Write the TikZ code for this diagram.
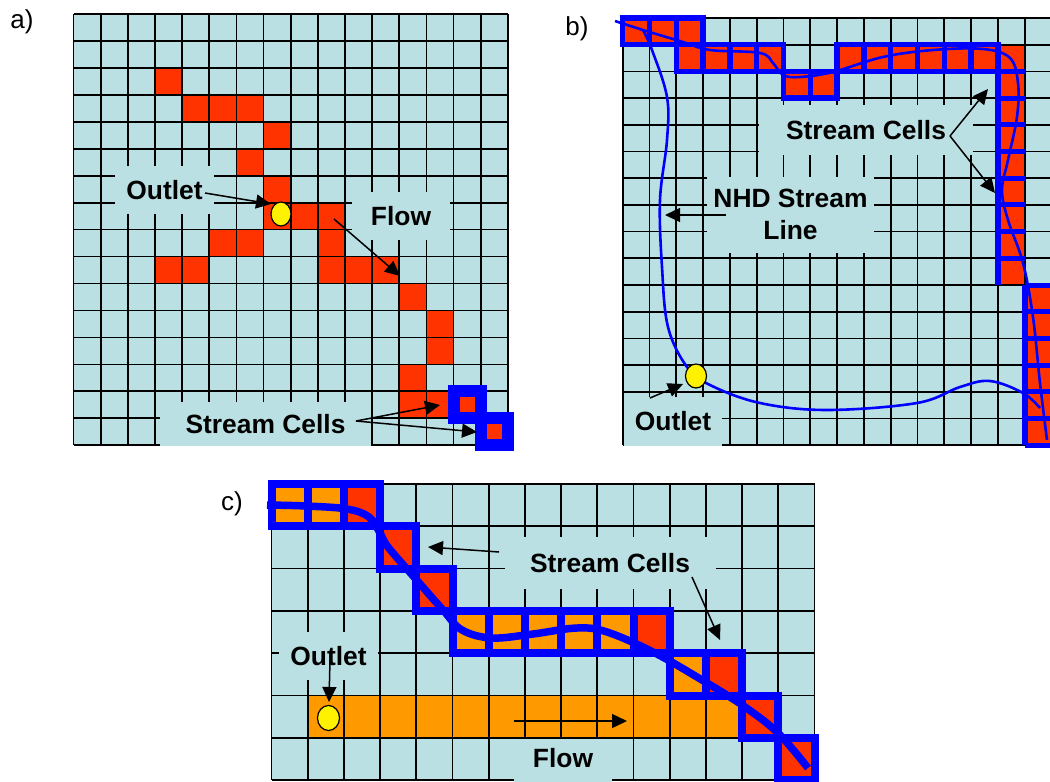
\documentclass[tikz,border=0pt]{standalone}
\usepackage{fontspec}
\setmainfont{Liberation Sans}
\usetikzlibrary{arrows.meta,shapes.geometric}
\definecolor{bgc}{RGB}{187,224,227}
\definecolor{rc}{RGB}{255,51,0}
\definecolor{oc}{RGB}{255,153,0}
\definecolor{bc}{RGB}{0,0,255}

\begin{document}
\begin{tikzpicture}[x=1pt,y=-1pt,
  gl/.style={line width=1.7pt,black},
  rd/.style={fill=rc},
  og/.style={fill=oc},
  bl/.style={draw=bc,line join=miter},
  lab/.style={fill=bgc,inner sep=0,align=center,font=\fontsize{26.4}{31.5}\selectfont\bfseries},
  tag/.style={inner sep=0,font=\fontsize{26}{30}\selectfont},
  oval/.style={ellipse,draw=black,line width=1.2pt,fill=yellow,inner sep=0},
  arr/.style={line width=1.5pt,-{Triangle[length=15pt,width=14pt]}}]
\useasboundingbox (0,0) rectangle (1050,782);
% a
\begin{scope}[shift={(73.5,14)},x=27.15pt,y=-26.95pt]
\fill[bgc] (0,0) rectangle (16,16);
\foreach \r/\c in {2/3,3/4,3/5,3/6,4/7,5/6,6/7,7/7,7/8,7/9,8/5,8/6,8/9,9/3,9/4,9/9,9/10,9/11,
  10/12,11/13,12/13,13/12,14/12,14/13,14/14,15/15} {
  \fill[rd] (\c,\r) rectangle ++(1,1);
}
\foreach \i in {0,...,16} {
  \draw[gl] (0,\i)--(16,\i);
  \draw[gl] (\i,0)--(\i,16);
}
\foreach \r/\c in {14/14,15/15} {
  \draw[bl,line width=12pt] (\c,\r) rectangle ++(1,1);
}
\end{scope}
\node[tag] (ta) at (22,22) {a)};
\node[lab,minimum width=99pt,minimum height=48pt] (ao) at (164.5,190) {Outlet};
\node[lab,minimum width=98pt,minimum height=48pt] (af) at (401,216) {Flow};
\node[lab,minimum width=211pt,minimum height=44pt] (as) at (265.5,424) {Stream Cells};
\node[oval,minimum width=20pt,minimum height=24pt] (ap) at (281,214) {};
\coordinate (ao1) at (205,193);
\coordinate (ao2) at (271,204);
\coordinate (af1) at (334,219);
\coordinate (af2) at (400,276);
\coordinate (as0) at (356,421);
\coordinate (as1) at (440,405);
\coordinate (as2) at (477,432);
\draw[arr] (ao1)--(ao2);
\draw[arr] (af1)--(af2);
\draw[arr] (as0)--(as1);
\draw[arr] (as0)--(as2);
% b
\begin{scope}
\clip (600,0) rectangle (1050,782);
\begin{scope}[shift={(622.7,18)},x=26.8pt,y=-26.7pt]
\fill[bgc] (0,0) rectangle (16,16);
\foreach \r/\c in {0/0,0/1,0/2,1/2,1/3,1/4,1/5,2/6,2/7,1/8,1/9,1/10,1/11,1/12,1/13,1/14,
  2/14,3/14,4/14,5/14,6/14,7/14,8/14,9/14,
  10/15,11/15,12/15,13/15,14/15,15/15} {
  \fill[rd] (\c,\r) rectangle ++(1,1);
}
\foreach \i in {0,...,16} {
  \draw[gl] (0,\i)--(16,\i);
  \draw[gl] (\i,0)--(\i,16);
}
\foreach \r/\c in {0/0,0/1,0/2,1/2,1/3,1/4,1/5,2/6,2/7,1/8,1/9,1/10,1/11,1/12,1/13} {
  \draw[bl,line width=5.5pt] (\c,\r) rectangle ++(1,1);
}
\draw[bl,line width=6pt] (14,2)--(14,10);
\foreach \r in {2,...,9} {
  \draw[bl,line width=5pt] (14,\r)--(15,\r);
}
\draw[bl,line width=6pt] (15,10)--(15,16);
\foreach \r in {10,...,16} {
  \draw[bl,line width=5pt] (15,\r)--(16,\r);
}
\end{scope}
\draw[bc,line width=2.6pt] plot[smooth,tension=0.6] coordinates {(615,21) (643,30) (683,42) (710,50)
  (760,53) (773,63) (783,75) (800,77) (833,72) (883,57) (933,50) (983,49) (1010,58)
  (1018,83) (1017,117) (1008,160) (1002,190) (1008,220) (1023,263) (1033,317) (1040,383) (1047,440)};
\draw[bc,line width=2.6pt] plot[smooth,tension=0.6] coordinates {(643,30) (652,50) (667,97) (667,140)
  (660,200) (662,267) (668,327) (687,367) (710,385) (760,403) (827,410) (917,403) (960,387)
  (990,381) (1023,393) (1040,408)};
\end{scope}
\node[tag] (tb) at (577,29) {b)};
\node[lab,minimum width=214pt,minimum height=50pt] (bs) at (866,130) {Stream Cells};
\node[lab,minimum width=167pt,minimum height=76pt] (bn) at (790.5,214.5) {NHD Stream\\Line};
\node[lab,minimum width=98pt,minimum height=49pt] (bo) at (673,421.5) {Outlet};
\node[oval,minimum width=21pt,minimum height=24pt] (bp) at (696,376) {};
\coordinate (bs0) at (950,136);
\coordinate (bs1) at (988,89);
\coordinate (bs2) at (995,193);
\coordinate (bn1) at (726,215);
\coordinate (bn2) at (665,215);
\coordinate (bo1) at (650,398);
\coordinate (bo2) at (683,384);
\draw[arr] (bs0)--(bs1);
\draw[arr] (bs0)--(bs2);
\draw[arr] (bn1)--(bn2);
\draw[arr] (bo1)--(bo2);
% c
\begin{scope}[shift={(271.5,484)},x=36.2pt,y=-42.3pt]
\fill[bgc] (0,0) rectangle (15,7);
\foreach \r/\c in {0/0,0/1,3/5,3/6,3/7,3/8,3/9,4/11,5/1,5/2,5/3,5/4,5/5,5/6,5/7,5/8,5/9,5/10,5/11,5/12} {
  \fill[og] (\c,\r) rectangle ++(1,1);
}
\foreach \r/\c in {0/2,1/3,2/4,3/10,4/12,5/13,6/14} {
  \fill[rd] (\c,\r) rectangle ++(1,1);
}
\foreach \i in {0,...,7} {
  \draw[gl] (0,\i)--(15,\i);
}
\foreach \i in {0,...,15} {
  \draw[gl] (\i,0)--(\i,7);
}
\foreach \r/\c in {0/0,0/1,0/2,1/3,2/4,3/5,3/6,3/7,3/8,3/9,3/10,4/11,4/12,5/13,6/14} {
  \draw[bl,line width=8pt] (\c,\r) rectangle ++(1,1);
}
\end{scope}
\draw[bc,line width=7.5pt] plot[smooth,tension=0.6] coordinates {(267,505) (306,506) (347,509) (369,517)
  (380,533) (388,547) (414,577) (443,610) (462,630) (492,638) (533,634) (577,628) (607,632)
  (655,653) (707,683) (745,707) (778,733) (808,768)};
\node[tag] (tc) at (232,504) {c)};
\node[lab,minimum width=211pt,minimum height=52pt] (cs) at (610,563) {Stream Cells};
\node[lab,minimum width=99pt,minimum height=48pt] (co) at (328.5,656) {Outlet};
\node[lab,minimum width=98pt,minimum height=43pt,text depth=5pt] (cf) at (563,760.5) {Flow};
\node[oval,minimum width=22pt,minimum height=25pt] (cp) at (328.5,718) {};
\coordinate (cs0) at (499,552);
\coordinate (cs1) at (428,547);
\coordinate (cs2) at (692,577);
\coordinate (cs3) at (720,640);
\coordinate (co1) at (330,660);
\coordinate (co2) at (329,702);
\coordinate (cf1) at (514,721);
\coordinate (cf2) at (627,721);
\draw[arr] (cs0)--(cs1);
\draw[arr] (cs2)--(cs3);
\draw[arr] (co1)--(co2);
\draw[arr] (cf1)--(cf2);
\end{tikzpicture}
\end{document}
